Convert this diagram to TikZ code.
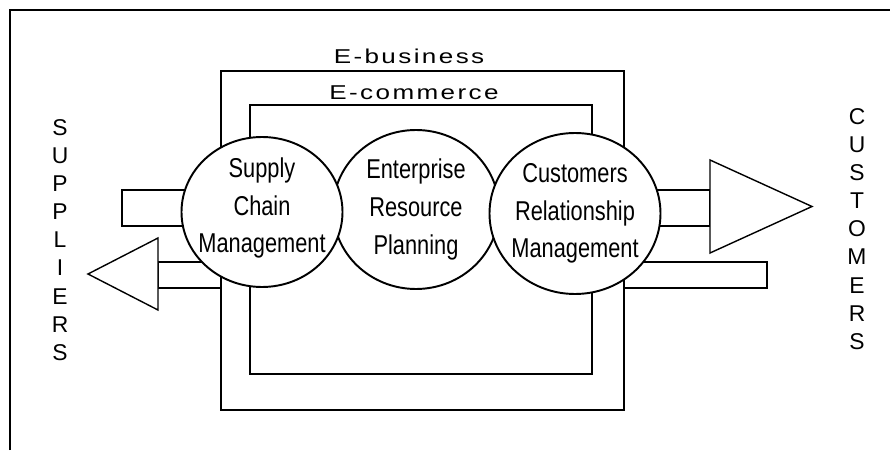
\documentclass[tikz,border=0pt]{standalone}
\usepackage{fontspec}
\setmainfont{Liberation Sans}
\newfontfamily\narrowfont[FakeStretch=0.8]{Liberation Sans}
\newfontfamily\spacedfont[FakeStretch=1.3,LetterSpace=12]{Liberation Sans}
\usetikzlibrary{shapes.geometric}

\begin{document}
\begin{tikzpicture}[
  frame/.style={line width=1.1pt},
  part/.style={draw, fill=white, line width=0.8pt},
  hub/.style={ellipse, draw, fill=white, line width=1.1pt, inner sep=0pt},
  hubtext/.style={align=center, font=\narrowfont\fontsize{15.5}{21.5}\selectfont},
  layer/.style={font=\spacedfont\fontsize{11.4}{13}\selectfont},
  side/.style={align=center, font=\fontsize{13}{16}\selectfont}
]
\useasboundingbox (0,0) rectangle (17.8,9);
%\draw (0,0) grid (17.8,9);

\draw [frame] (0.2,0) -- (0.2,8.8) -- (17.8,8.8);

% E-business and E-commerce boxes
\draw [frame] (4.42,0.8) rectangle (12.48,7.58);
\draw [frame] (5.0,1.52) rectangle (11.84,6.9);
\node [layer] (ebus) at (8.18,7.88) {E-business};
\node [layer] (ecom) at (8.28,7.15) {E-commerce};

% flows on the suppliers side
\draw [part] (2.44,4.48) rectangle (4.5,5.2);
\draw [part] (3.16,3.24) rectangle (4.42,3.76);
\draw [part] (1.76,3.52) -- (3.16,4.24) -- (3.16,2.8) -- cycle;

% flows on the customers side
\draw [part] (12.3,4.48) rectangle (14.2,5.2);
\draw [part] (14.2,5.8) -- (16.24,4.87) -- (14.2,3.94) -- cycle;
\draw [part] (12.48,3.24) rectangle (15.34,3.76);

\node [hub, minimum width=3.32cm, minimum height=3.18cm] (erp) at (8.32,4.81) {};
\node [hub, minimum width=3.22cm, minimum height=3.0cm] (scm) at (5.24,4.76) {};
\node [hub, minimum width=3.42cm, minimum height=3.22cm] (crm) at (11.5,4.73) {};

\node [hubtext] at ([yshift=0.08cm]scm) {Supply\\Chain\\Management};
\node [hubtext] at (erp) {Enterprise\\Resource\\Planning};
\node [hubtext] at (crm) {Customers\\Relationship\\Management};

\node [side] (sup) at (1.2,4.2) {S\\U\\P\\P\\L\\I\\E\\R\\S};
\node [side] (cus) at (17.14,4.42) {C\\U\\S\\T\\O\\M\\E\\R\\S};

\end{tikzpicture}
\end{document}
